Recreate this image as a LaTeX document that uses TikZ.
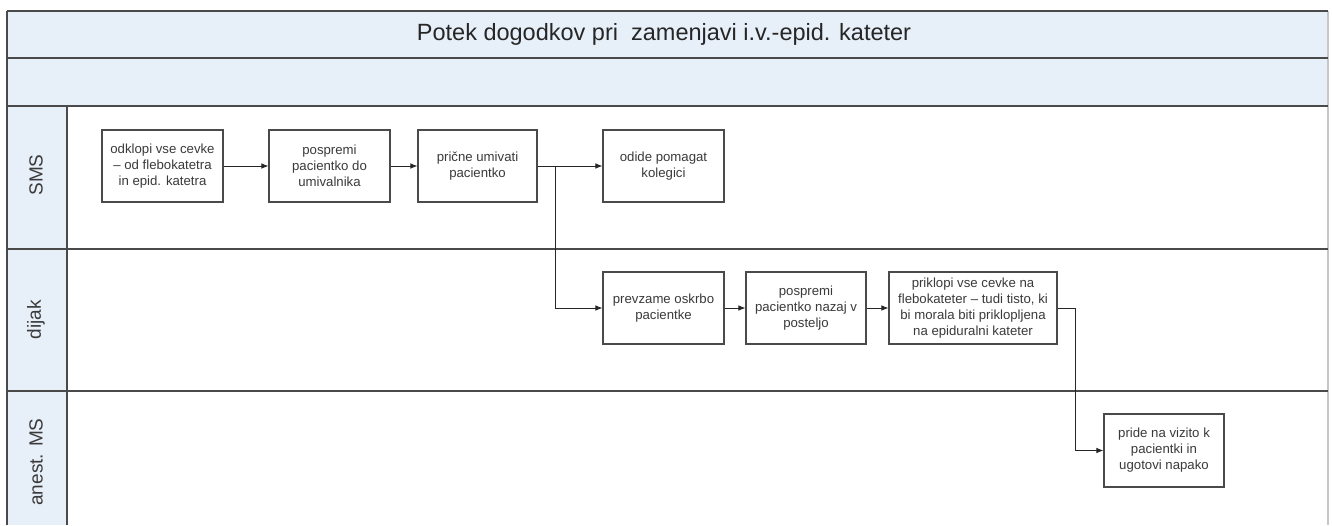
\documentclass[tikz,border=0pt]{standalone}
\usepackage{fontspec}
\setmainfont{Liberation Sans}
\usetikzlibrary{arrows.meta}
\definecolor{hdr}{HTML}{E7EFF9}
\definecolor{lne}{HTML}{4A4A4A}
\definecolor{txt}{HTML}{3A3A3A}
\tikzset{
  x=1pt, y=-1pt,
  lanebd/.style={draw=lne, line width=1.6pt},
  stepbox/.style={draw=lne, line width=1.1pt, fill=white, minimum width=121pt, minimum height=72pt,
    align=center, font=\fontsize{13.2}{16}\selectfont, text=txt, inner sep=1pt},
  arr/.style={draw=black!85, line width=0.8pt, -{Latex[length=7pt,width=5.5pt]}},
  lanelbl/.style={rotate=90, font=\fontsize{19}{21}\selectfont, text=txt},
}
\begin{document}
\begin{tikzpicture}
\useasboundingbox (0,0) rectangle (1332,525);
\fill[white] (0,0) rectangle (1332,525);
% header
\fill[hdr] (7,11) rectangle (1328,106);
\fill[hdr] (7,106) rectangle (67,525);
\draw[gray!45, line width=1.5pt] (1328,11) -- (1328,525);
\draw[lanebd] (7,11) -- (1328,11);
\draw[lanebd] (7,58) -- (1328,58);
\draw[lanebd] (7,106) -- (1328,106);
\draw[lanebd] (7,249) -- (1328,249);
\draw[lanebd] (7,391) -- (1328,391);
\draw[lanebd] (7,11) -- (7,525);
\draw[lanebd] (67,106) -- (67,525);
\node[font=\fontsize{23.5}{26}\selectfont, text=black!85] (title) at (664,34) {Potek dogodkov pri \ zamenjavi i.v.-epid. kateter};
\node[lanelbl] (l1) at (36,175) {SMS};
\node[lanelbl] (l2) at (36,320) {dijak};
\node[lanelbl] (l3) at (36,462) {anest. MS};
% boxes
\node[stepbox] (b1) at (162.5,166) {odklopi vse cevke\\– od flebokatetra\\in epid. katetra};
\node[stepbox] (b2) at (329.5,166) {pospremi\\pacientko do\\umivalnika};
\node[stepbox, minimum width=119pt] (b3) at (477.5,166) {prične umivati\\pacientko};
\node[stepbox] (b4) at (663.5,166) {odide pomagat\\kolegici};
\node[stepbox] (b5) at (663.5,308) {prevzame oskrbo\\pacientke};
\node[stepbox, minimum width=120pt] (b6) at (806,308) {pospremi\\pacientko nazaj v\\posteljo};
\node[stepbox, minimum width=168pt] (b7) at (973,308) {priklopi vse cevke na\\flebokateter – tudi tisto, ki\\bi morala biti priklopljena\\na epiduralni kateter};
\node[stepbox, minimum width=120pt, minimum height=73pt] (b8) at (1164,450.5) {pride na vizito k\\pacientki in\\ugotovi napako};
% connectors
\draw[arr] (b1) -- (b2);
\draw[arr] (b2) -- (b3);
\draw[arr] (b3) -- (b4);
\draw[arr] (b3.east) -- ++(18,0) |- (b5.west);
\draw[arr] (b5) -- (b6);
\draw[arr] (b6) -- (b7);
\draw[arr] (b7.east) -- ++(18,0) |- (b8.west);
\end{tikzpicture}
\end{document}
